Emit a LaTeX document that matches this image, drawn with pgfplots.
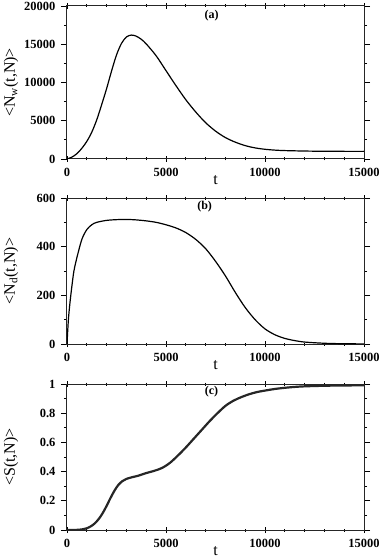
\documentclass[border=0pt]{standalone}
\usepackage{pgfplots}
\pgfplotsset{compat=1.18}
\usepackage{fontspec}
\setmainfont{Liberation Serif}

\pgfplotsset{
  panel/.style={
    scale only axis,
    width=297pt,
    xmin=0, xmax=15000,
    xtick={0,5000,10000,15000},
    minor x tick num=4,
    minor y tick num=1,
    scaled ticks=false,
    xtick align=center, ytick align=outside,
    major tick length=6pt, minor tick length=3pt,
    tick style={black, line width=0.8pt},
    axis line style={black!85, line width=1pt},
    /pgf/number format/assume math mode=true,
    /pgf/number format/set thousands separator={},
    ticklabel style={font=\fontsize{12.5}{13}\selectfont\bfseries},
    xticklabel style={yshift=-3pt},
    yticklabel style={xshift=-2pt},
    xlabel={t},
    every axis x label/.style={at={(rel axis cs:0.5,0)}, yshift=-21pt, anchor=center,
      font=\fontsize{16}{16}\selectfont},
    every axis y label/.style={at={(rel axis cs:0,0.5)}, xshift=-56pt, rotate=90, anchor=center,
      font=\fontsize{16}{16}\selectfont},
  },
  curve/.style={black, line width=1.2pt, smooth, mark=none},
}

\begin{document}
\begin{tikzpicture}
\useasboundingbox (-67pt,0pt) rectangle (315pt,-556pt);

% (a)
\begin{axis}[panel, at={(0pt,-6pt)}, anchor=north west, height=153pt,
  ymin=0, ymax=20000, ytick={0,5000,10000,15000,20000},
  ylabel={<N\textsubscript{w}(t,N)>}]
\addplot[curve] coordinates {
(0,0) (250,250) (500,700) (750,1400) (1000,2300) (1250,3500) (1500,5100)
(1750,7100) (2000,9200) (2250,11500) (2500,13600) (2750,15100) (3000,15950)
(3250,16200) (3500,16050) (3750,15650) (4000,15050) (4500,13500) (5000,11550)
(5500,9600) (6000,7750) (6500,6150) (7000,4750) (7500,3650) (8000,2800)
(8500,2200) (9000,1750) (9500,1450) (10000,1270) (10500,1160) (11000,1100)
(12000,1040) (13000,1010) (14000,1000) (15000,1000)
};
\node[font=\fontsize{12}{12}\selectfont\bfseries] at (axis cs:7300,18700) {(a)};
\end{axis}

% (b)
\begin{axis}[panel, at={(0pt,-198pt)}, anchor=north west, height=146pt,
  ymin=0, ymax=600, ytick={0,200,400,600},
  ylabel={<N\textsubscript{d}(t,N)>}]
\addplot[curve] coordinates {
(0,0) (40,60) (80,110) (150,170) (250,240) (350,300) (500,355) (750,430)
(1000,470) (1250,490) (1500,500) (2000,508) (2500,511) (3000,512) (3500,510)
(4000,506) (4500,500) (5000,490) (5500,477) (6000,458) (6500,430) (7000,392)
(7500,340) (8000,280) (8500,212) (9000,150) (9500,100) (10000,62) (10500,38)
(11000,23) (11500,14) (12000,8) (13000,3) (14000,1) (15000,0.5)
};
\node[font=\fontsize{12}{12}\selectfont\bfseries] at (axis cs:6950,563) {(b)};
\end{axis}

% (c)
\begin{axis}[panel, at={(0pt,-384pt)}, anchor=north west, height=146pt,
  ymin=0, ymax=1, ytick={0,0.2,0.4,0.6,0.8,1},
  ylabel={<S(t,N)>}]
\addplot[curve, line width=2.2pt, black!85] coordinates {
(0,0) (500,0.001) (800,0.005) (1000,0.012) (1200,0.025) (1400,0.045)
(1600,0.075) (1800,0.115) (2000,0.165) (2200,0.22) (2400,0.27) (2600,0.31)
(2800,0.335) (3000,0.35) (3300,0.362) (3600,0.372) (4000,0.39) (4400,0.405)
(4800,0.425) (5200,0.46) (5600,0.51) (6000,0.565) (6400,0.625) (6800,0.685)
(7200,0.745) (7600,0.8) (8000,0.85) (8400,0.885) (8800,0.91) (9200,0.93)
(9600,0.945) (10000,0.955) (10500,0.966) (11000,0.974) (11500,0.98)
(12000,0.984) (13000,0.988) (14000,0.99) (15000,0.991)
};
\node[font=\fontsize{12}{12}\selectfont\bfseries] at (axis cs:7300,0.945) {(c)};
\end{axis}
\end{tikzpicture}
\end{document}
